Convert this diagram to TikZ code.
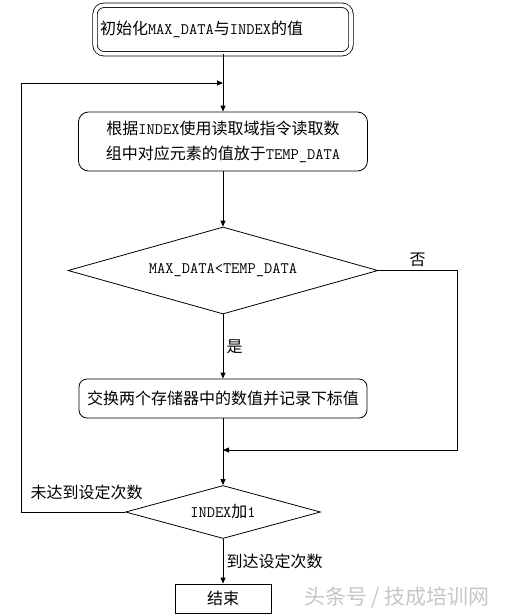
\documentclass[tikz,border=0pt]{standalone}
\usepackage{fontspec}
\newfontfamily\cjk{Noto Sans CJK SC}
\usetikzlibrary{arrows.meta, shapes.geometric, positioning, calc}

\begin{document}
\begin{tikzpicture}[x=1pt,y=-1pt,->,>={Triangle[length=6pt,width=5pt]},line width=0.8pt,
                    font=\fontsize{16pt}{25pt}\selectfont\ttfamily,
                    init box/.style={draw,double,double distance=3.6pt,rounded corners=9pt,minimum height=48.5pt,text width=246pt,align=left,inner sep=5pt},
                    round box/.style={draw,rounded corners=10pt,align=center,inner sep=2pt},
                    test node/.style={draw,diamond,aspect=3.5,inner sep=1pt},
                    end box/.style={draw,minimum width=96pt,minimum height=29pt},
                    note/.style={font=\fontsize{16pt}{20pt}\selectfont\cjk}]
    \useasboundingbox (0,0) rectangle (517,616);

    \node[init box] (init) at (223,29.5) {{\cjk 初始化}MAX\_DATA{\cjk 与}INDEX{\cjk 的值}};
    \node[round box,minimum width=289pt,minimum height=59pt,node distance=112pt] (read) [below of=init]
        {{\cjk 根据}INDEX{\cjk 使用读取域指令读取数}\\{\cjk 组中对应元素的值放于}TEMP\_DATA};
    \node[test node,minimum width=310pt,minimum height=87pt,node distance=129pt] (cmp) [below of=read] {MAX\_DATA<TEMP\_DATA};
    \node[round box,rounded corners=8pt,minimum width=288pt,minimum height=39pt,node distance=128pt] (swap) [below of=cmp]
        {\cjk 交换两个存储器中的数值并记录下标值};
    \node[test node,minimum width=195pt,minimum height=53pt,node distance=113.5pt] (inc) [below of=swap] {INDEX{\cjk 加}1};
    \node[end box,node distance=86.5pt] (stop) [below of=inc] {\cjk 结束};

    \coordinate (nocorner) at (457,270.5);
    \coordinate (nojoin) at (457,450);
    \coordinate (merge) at (223,450);
    \coordinate (loopbot) at (21,512);
    \coordinate (looptop) at (21,83);
    \coordinate (loopin) at (223,83);

    \path
    (init) edge (read)
    (read) edge (cmp)
    (cmp) edge node[note,right] {是} (swap)
    (swap) edge (inc)
    (inc) edge node[note,right] {到达设定次数} (stop);

    \draw (cmp.east) -- node[note,above] {否} (nocorner) -- (nojoin) -- (merge);
    \draw (inc.west) -- node[note,above=8pt,pos=0.37] {未达到设定次数} (loopbot) -- (looptop) -- (loopin);

    \node[font=\fontsize{21pt}{21pt}\selectfont\cjk,text=gray!45] (mark) at (397,597) {头条号 / 技成培训网};
\end{tikzpicture}
\end{document}
